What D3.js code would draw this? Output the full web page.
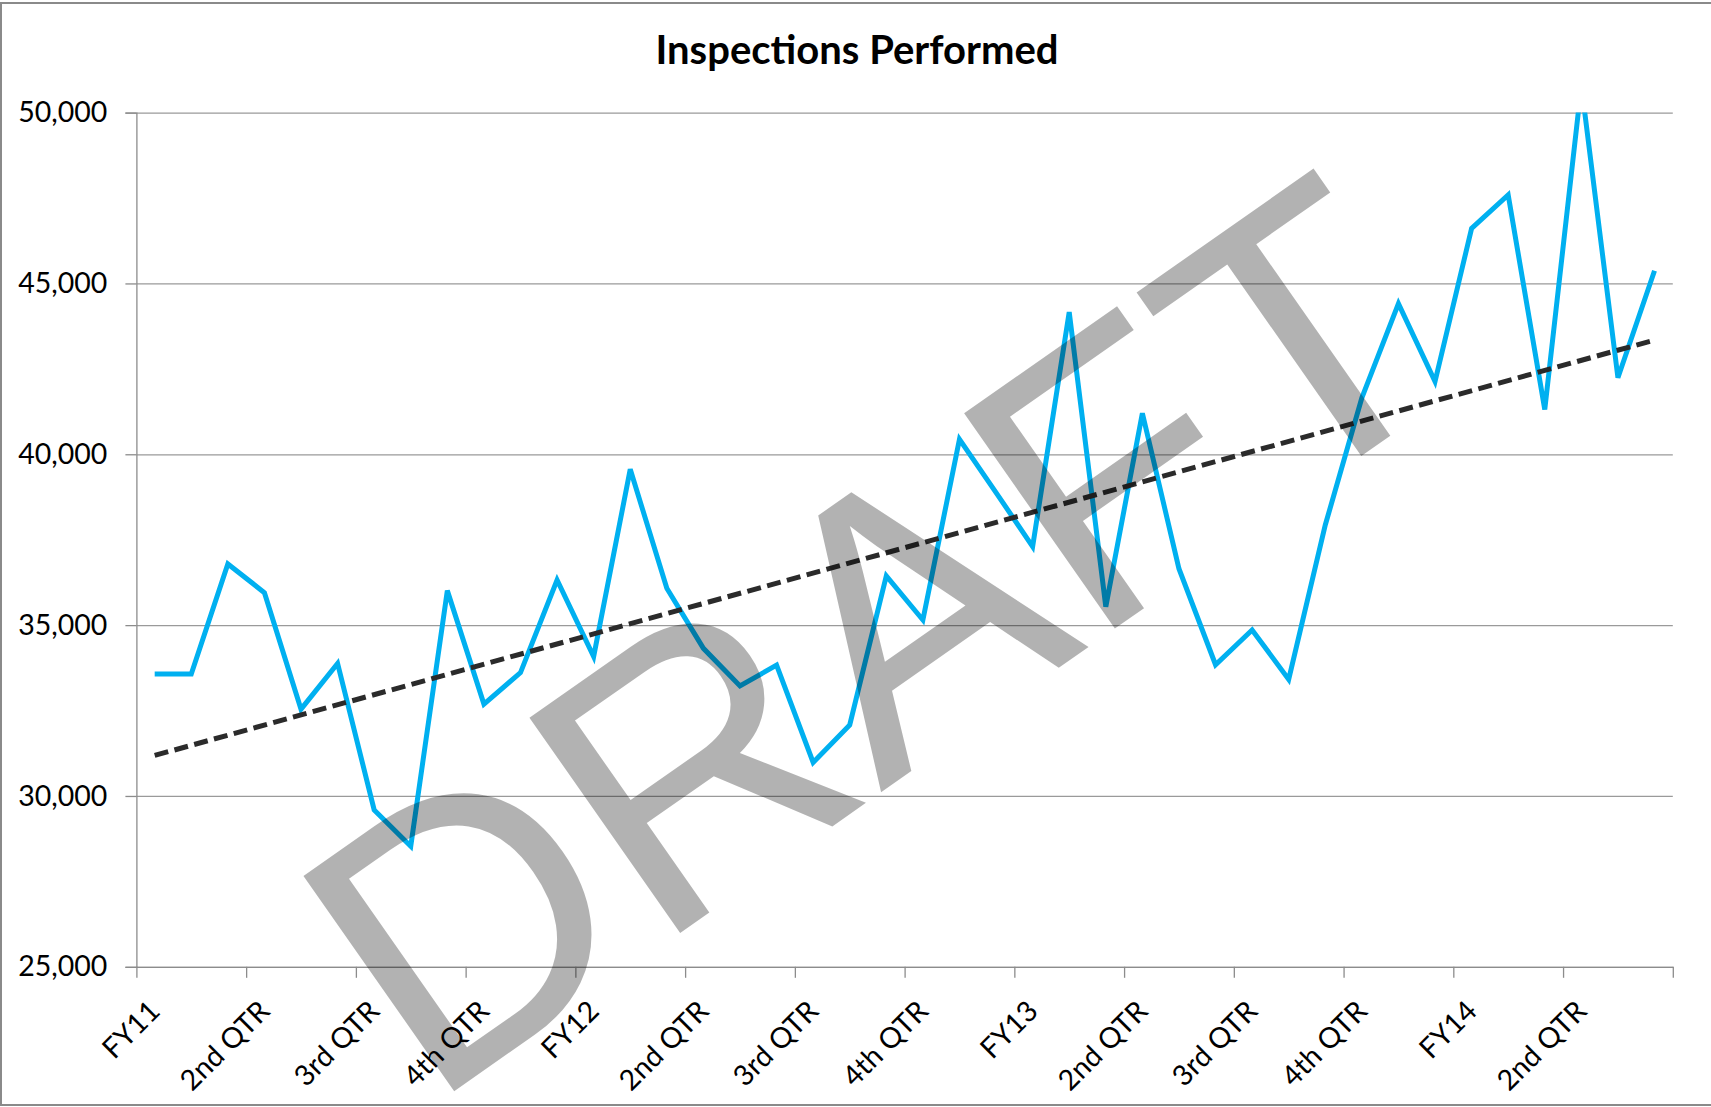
<!DOCTYPE html>
<html>
<head>
<meta charset="utf-8">
<script src="https://cdn.jsdelivr.net/npm/d3@7"></script>
<style>
  body { margin: 0; background: #fff; }
  .axis-label { font-family: Lato, "Open Sans", sans-serif; font-size: 28.5px; fill: #000; }
  .title { font-family: Lato, "Open Sans", sans-serif; font-size: 40px; font-weight: bold; fill: #000; }
  .watermark { font-family: "Liberation Sans", Arial, sans-serif; font-size: 382px; fill: #000; fill-opacity: 0.3; }
</style>
</head>
<body>
<div id="chart"></div>
<script>
var svgWidth = 1711;
var svgHeight = 1107;

var margin = {
  top: 112.6,
  right: 38.2,
  bottom: 140.2,
  left: 136.4,
};

var width = svgWidth - margin.left - margin.right;
var height = svgHeight - margin.top - margin.bottom;

// Monthly inspections, FY11 through the middle of FY14
var inspections = [
  33570, 33570, 36790, 35950, 32540, 33880, 29590, 28530, 36010, 32690,
  33610, 36320, 34080, 39560, 36080, 34320, 33220, 33830, 30980, 32080,
  36440, 35150, 40440, 38880, 37300, 44160, 35540, 41200, 36650, 33840,
  34860, 33410, 37930, 41650, 44410, 42130, 46610, 47590, 41310, 50800,
  42240, 45370
];

// one label per quarter (every third month)
var quarterLabels = [
  "FY11", "2nd QTR", "3rd QTR", "4th QTR",
  "FY12", "2nd QTR", "3rd QTR", "4th QTR",
  "FY13", "2nd QTR", "3rd QTR", "4th QTR",
  "FY14", "2nd QTR"
];
var monthsPerLabel = 3;

var yTicks = [25000, 30000, 35000, 40000, 45000, 50000];

var svg = d3.select("#chart")
    .append("svg")
    .attr("width", svgWidth)
    .attr("height", svgHeight);

// outer chart border (top, left, bottom)
svg.append("path")
    .attr("d", `M${svgWidth},3 H1 V1105 H${svgWidth}`)
    .attr("fill", "none")
    .attr("stroke", "#8a8a8a")
    .attr("stroke-width", 2);

var chartgroup = svg.append("g")
    .attr("transform", `translate(${margin.left}, ${margin.top})`);

// scales
var xBand = d3.scaleBand()
    .domain(d3.range(inspections.length))
    .range([0, width]);
var xEdge = d3.scaleLinear()
    .domain([0, inspections.length])
    .range([0, width]);
var yLinearScale = d3.scaleLinear()
    .domain([25000, 50000])
    .range([height, 0]);

var xCenter = i => xBand(i) + xBand.bandwidth() / 2;

// gridlines
chartgroup.append("g")
    .call(d3.axisLeft(yLinearScale).tickValues(yTicks).tickSize(-width).tickFormat(""))
    .call(g => g.select(".domain").remove())
    .selectAll("line")
    .attr("stroke", "#9a9a9a")
    .attr("stroke-width", 1.3);

// y axis
var leftAxis = chartgroup.append("g")
    .call(d3.axisLeft(yLinearScale).tickValues(yTicks).tickSize(11).tickPadding(18).tickFormat(d3.format(",")));
leftAxis.selectAll("line, path").attr("stroke", "#8c8c8c").attr("stroke-width", 1.3);
leftAxis.selectAll("text").attr("class", "axis-label");
leftAxis.attr("font-size", null).attr("font-family", null);

// x axis: tick marks between quarters
var bottomAxis = chartgroup.append("g")
    .attr("transform", `translate(0, ${height})`)
    .call(d3.axisBottom(xEdge).tickValues(d3.range(0, inspections.length + 1, monthsPerLabel)).tickSize(11).tickSizeOuter(0).tickFormat(""));
bottomAxis.selectAll("line, path").attr("stroke", "#8c8c8c").attr("stroke-width", 1.3);

// rotated quarter labels
chartgroup.append("g")
    .selectAll("text")
    .data(quarterLabels)
    .enter()
    .append("text")
    .attr("class", "axis-label")
    .attr("text-anchor", "end")
    .attr("transform", (d, i) => `translate(${xCenter(i * monthsPerLabel) + 7}, ${height + 46}) rotate(-45)`)
    .text(d => d);

// clip series to plot area
svg.append("defs").append("clipPath")
    .attr("id", "plotclip")
    .append("rect")
    .attr("x", 0).attr("y", 0)
    .attr("width", width).attr("height", height);

// inspections line
var line = d3.line()
    .x((d, i) => xCenter(i))
    .y(d => yLinearScale(d));

chartgroup.append("path")
    .datum(inspections)
    .attr("clip-path", "url(#plotclip)")
    .attr("fill", "none")
    .attr("stroke", "#00B0F0")
    .attr("stroke-width", 5)
    .attr("stroke-linejoin", "miter")
    .attr("d", line);

// linear trendline (least squares)
var n = inspections.length;
var meanX = d3.mean(d3.range(n));
var meanY = d3.mean(inspections);
var slope = d3.sum(inspections, (d, i) => (i - meanX) * (d - meanY)) /
            d3.sum(d3.range(n), i => (i - meanX) * (i - meanX));
var intercept = meanY - slope * meanX;
var trend = [0, n - 1].map(i => ({i: i, v: intercept + slope * i}));

chartgroup.append("path")
    .datum(trend)
    .attr("fill", "none")
    .attr("stroke", "#2b2b2b")
    .attr("stroke-width", 5)
    .attr("stroke-dasharray", "14,6.5")
    .attr("d", d3.line().x(d => xCenter(d.i)).y(d => yLinearScale(d.v)));

// title
svg.append("text")
    .attr("class", "title")
    .attr("x", 857)
    .attr("y", 64.3)
    .attr("text-anchor", "middle")
    .text("Inspections Performed");

// watermark
svg.append("text")
    .attr("class", "watermark")
    .attr("text-anchor", "middle")
    .attr("transform", "translate(950, 744) rotate(-35)")
    .text("DRAFT");
</script>
</body>
</html>
